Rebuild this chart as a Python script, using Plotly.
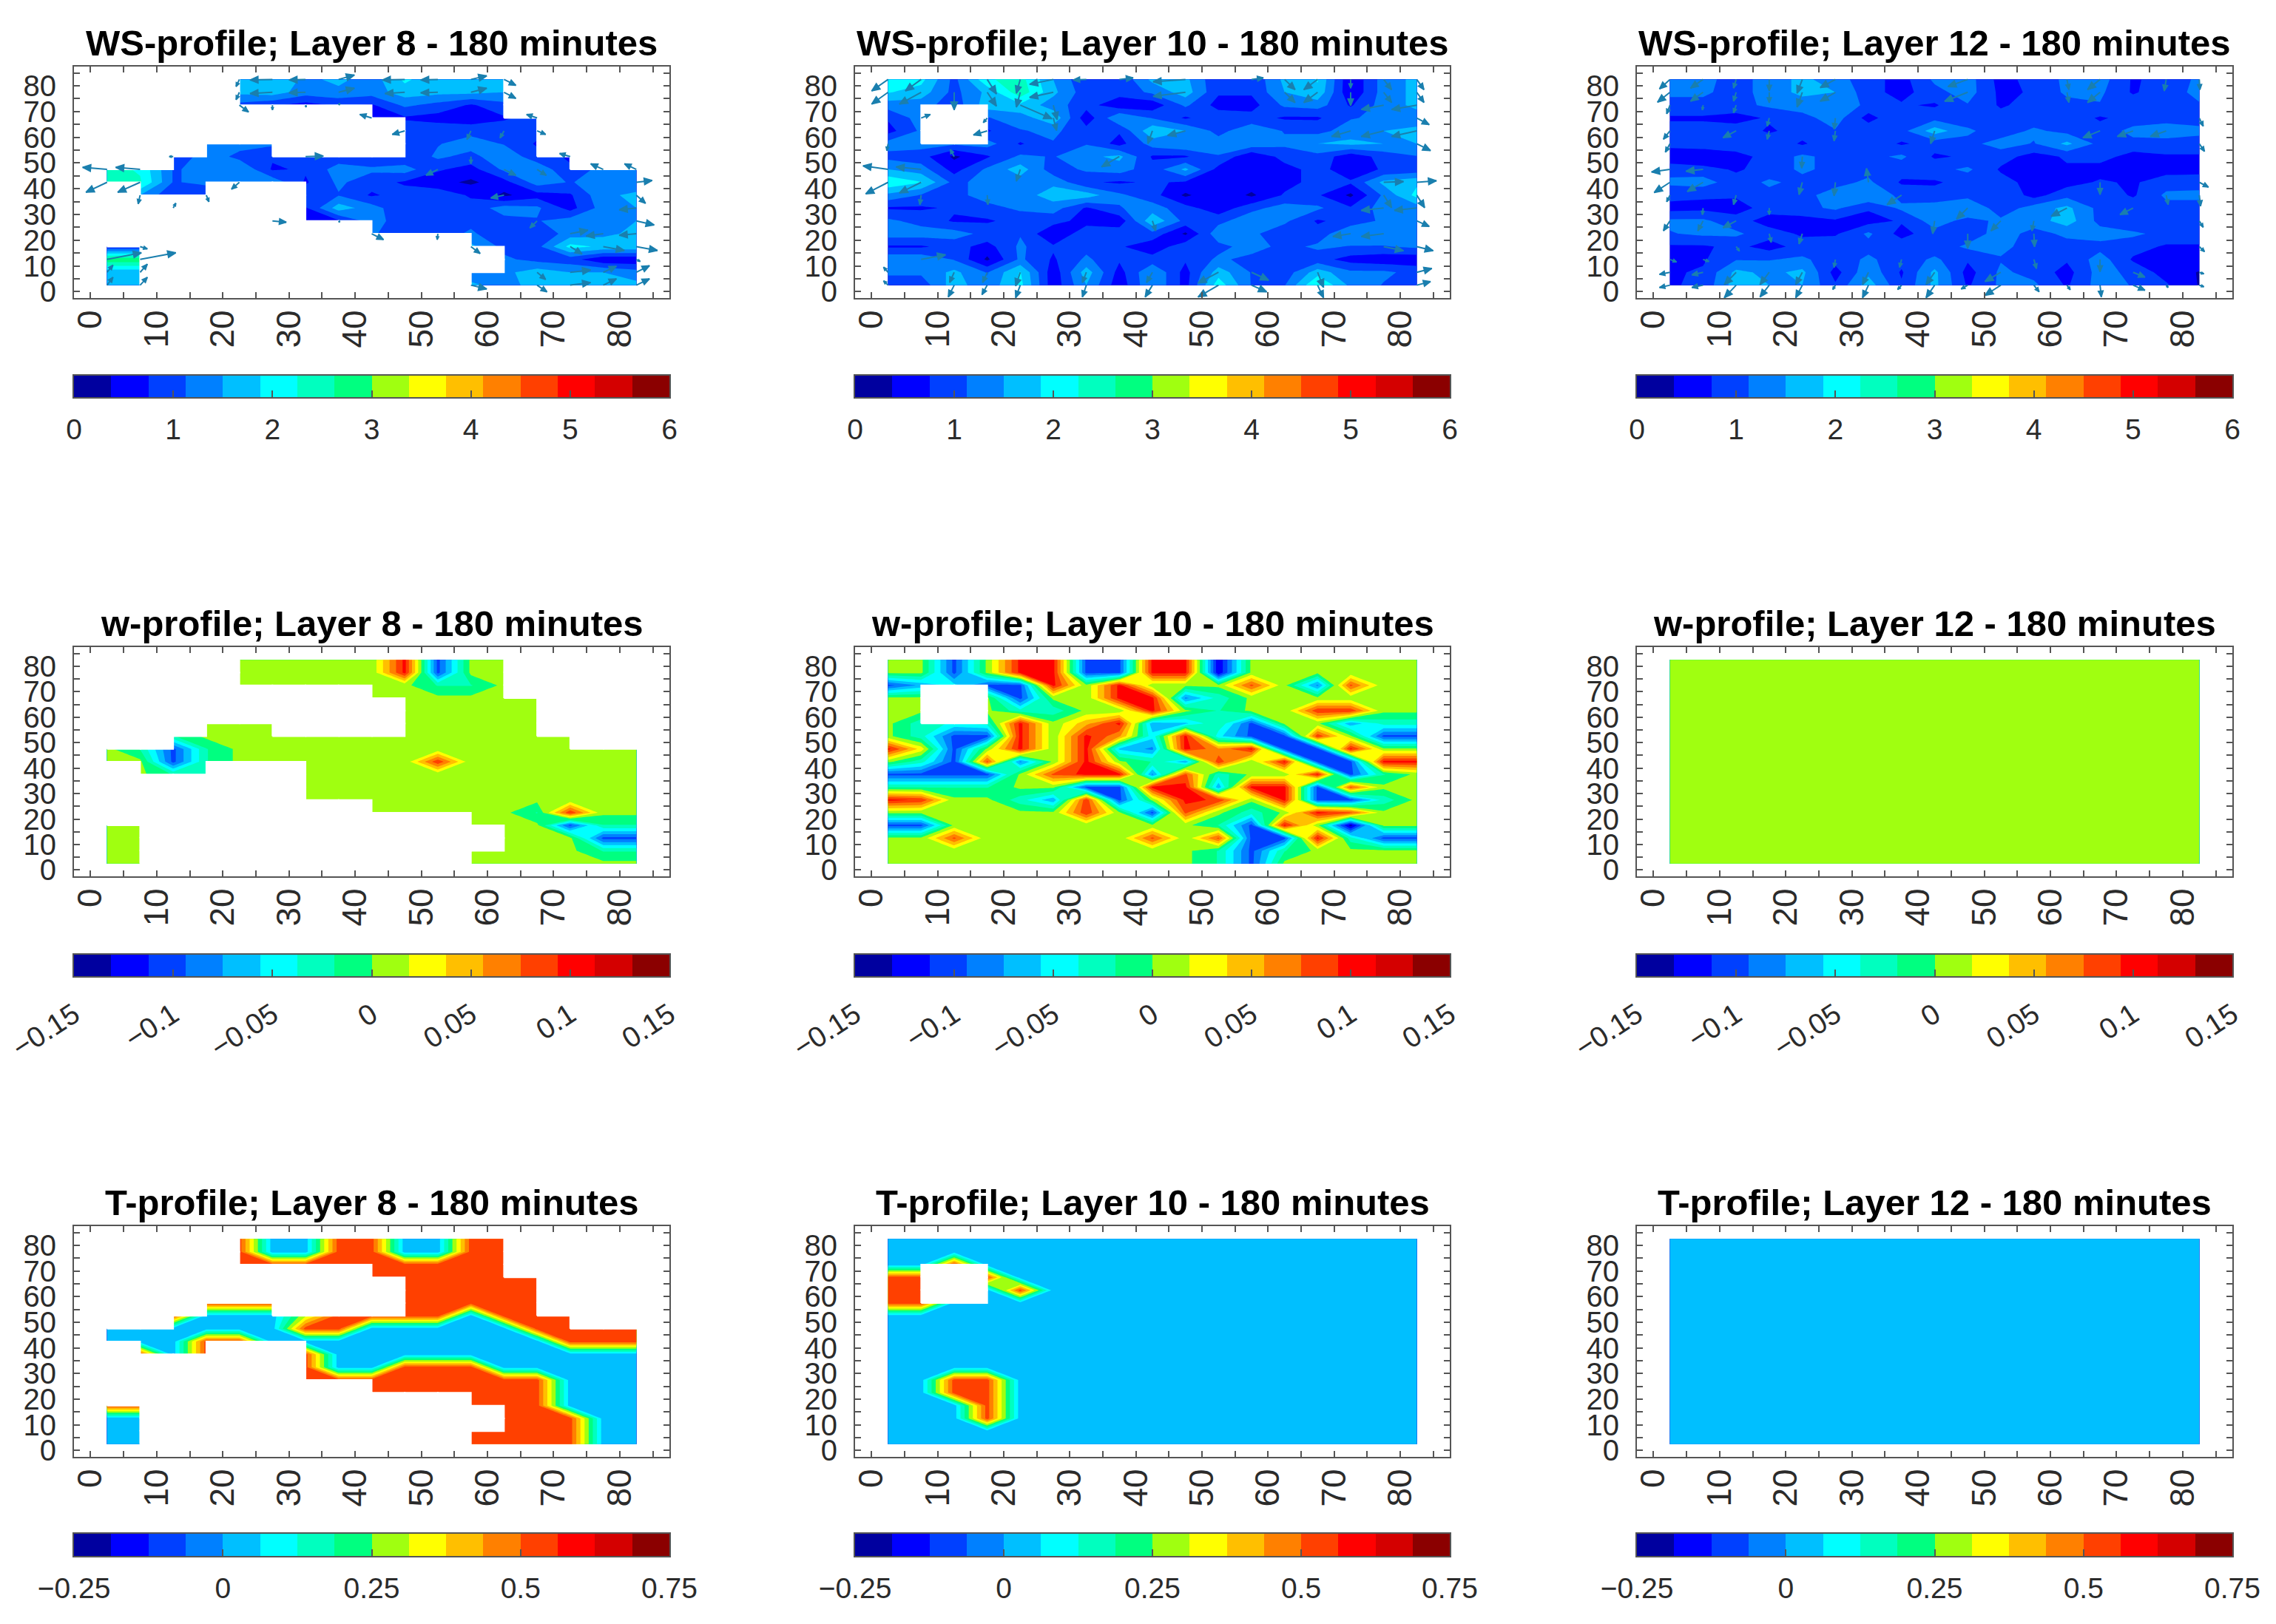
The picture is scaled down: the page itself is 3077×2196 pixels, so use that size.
import numpy as np
import plotly.graph_objects as go

N = float("nan")
Z = 0.005   # "zero" vertical wind (lime band)
B = 0.03    # temperature anomaly, blue band
R = 0.53    # temperature anomaly, orange-red band

grid = [2.5, 7.5, 12.5, 17.5, 22.5, 27.5, 32.5, 37.5, 42.5, 47.5, 52.5, 57.5, 62.5, 67.5, 72.5, 77.5, 82.5]

# all matrices: first row is y = 82.5, last row y = 2.5
ws8 = [
[N,N,N,N,1.6,1.85,1.4,1.6,1.3,1.95,1.6,1.6,1.6,N,N,N,N],
[N,N,N,N,1.6,1.7,1.3,1.4,1.3,1.7,1.6,1.6,1.5,N,N,N,N],
[N,N,N,N,1.0,0.8,0.6,0.8,0.7,1.2,1.0,0.7,1.0,N,N,N,N],
[N,N,N,N,N,N,N,N,0.4,0.7,0.6,0.5,0.7,0.9,N,N,N],
[N,N,N,N,N,N,N,N,N,1.0,1.0,1.0,0.95,0.9,N,N,N],
[N,N,N,1.5,1.3,1.2,N,N,N,1.0,1.1,1.3,1.1,0.7,N,N,N],
[N,N,0.7,1.4,1.0,0.8,0.8,0.9,0.8,0.8,1.2,1.0,1.4,0.9,0.7,N,N],
[2.4,2.2,1.1,1.2,1.5,0.7,0.8,1.3,1.2,1.3,0.8,0.6,1.2,1.4,0.8,1.3,1.3],
[2.4,2.3,1.1,1.2,1.4,1.4,0.7,1.2,0.9,0.7,0.5,0.3,0.6,1.3,1.1,1.3,1.2],
[N,1.5,0.8,0.9,N,N,1.0,1.1,0.7,0.9,1.0,0.7,0.3,0.6,0.7,1.4,1.6],
[N,N,N,N,N,N,0.7,1.7,1.3,0.8,0.8,0.9,1.3,1.2,0.6,1.3,1.5],
[N,N,N,N,N,N,0.4,0.7,1.3,0.9,0.9,1.0,1.0,1.1,1.3,1.4,1.5],
[N,N,N,N,N,N,N,N,1.2,0.8,0.9,1.2,0.8,0.8,1.3,1.4,1.6],
[0.7,0.7,N,N,N,N,N,N,N,N,N,1.6,1.0,1.0,2.0,1.8,1.8],
[2.9,2.9,N,N,N,N,N,N,N,N,N,N,1.2,1.0,0.9,0.45,0.45],
[1.6,1.6,N,N,N,N,N,N,N,N,N,1.2,1.4,1.7,1.5,1.5,1.3],
[1.7,1.7,N,N,N,N,N,N,N,N,N,1.6,1.3,1.7,1.7,1.6,1.6],
]

ws10 = [
[2.0,2.0,1.0,2.2,2.4,1.5,0.8,0.8,1.6,1.6,0.8,0.8,1.6,1.9,0.4,1.3,1.6],
[1.9,1.7,1.0,1.6,2.5,1.6,0.9,0.9,1.2,1.7,0.8,0.8,1.5,1.8,0.4,1.3,1.6],
[1.3,1.3,0.9,1.7,1.8,1.3,0.9,0.5,0.5,1.2,0.6,0.6,1.2,1.3,0.7,1.3,1.6],
[0.8,1.3,N,1.1,1.3,1.8,0.5,1.5,1.1,0.7,1.0,0.9,0.7,0.7,1.1,1.2,1.3],
[0.6,1.2,N,0.7,1.1,1.2,0.9,0.8,1.8,1.5,1.0,1.4,1.1,1.0,1.3,1.5,1.6],
[1.3,1.3,1.2,1.3,0.7,1.1,1.1,0.6,1.3,1.5,1.3,1.4,1.2,1.5,1.6,1.5,1.5],
[1.0,0.9,0.3,0.7,1.2,1.1,1.4,1.6,0.7,0.7,1.1,0.4,0.9,1.0,0.5,0.9,1.1],
[1.5,1.3,0.6,1.2,1.7,0.9,1.2,1.3,0.9,1.6,0.6,0.4,0.6,0.9,0.5,0.8,0.9],
[2.2,1.9,1.0,1.3,1.3,1.4,0.8,0.7,0.8,0.7,0.7,0.6,0.6,0.9,0.8,1.6,1.8],
[1.4,1.1,1.0,1.3,1.3,1.7,1.7,1.2,0.9,0.3,0.7,0.3,0.8,0.8,0.3,1.2,2.0],
[0.7,0.7,0.8,1.0,1.2,1.3,0.7,1.1,1.3,0.9,0.5,1.0,1.3,1.2,0.8,1.3,1.3],
[1.2,1.0,0.7,0.7,0.9,0.9,0.6,0.5,1.8,1.0,1.0,1.4,1.2,0.7,0.9,1.2,1.2],
[1.3,1.3,1.3,1.0,1.1,0.4,1.0,1.0,1.0,0.3,1.4,1.2,0.9,0.9,1.5,1.4,1.3],
[0.7,0.7,0.9,0.6,1.2,0.8,1.0,0.8,0.5,1.0,1.0,1.3,1.0,1.2,1.1,1.1,1.2],
[1.4,1.4,1.1,0.3,1.2,0.7,1.2,0.8,0.9,0.8,1.2,1.0,0.9,0.9,0.6,0.5,0.5],
[1.2,1.2,1.6,1.1,1.9,0.5,1.7,0.6,1.5,0.6,1.7,1.1,0.9,1.7,1.2,1.2,1.0],
[0.9,0.9,1.7,1.2,2.0,0.5,1.5,0.5,1.5,0.6,2.1,1.1,1.1,2.3,1.4,1.1,0.9],
]

ws12 = [
[1.2,1.25,0.95,1.3,1.6,1.3,0.9,0.6,1.2,1.3,0.6,0.9,1.2,1.3,0.7,0.9,1.2],
[1.2,1.2,0.95,1.3,1.6,1.5,0.9,0.6,1.0,1.3,0.65,0.8,1.2,1.2,0.7,1.0,1.2],
[1.0,1.0,1.0,1.2,1.3,1.5,1.0,0.8,0.7,1.1,0.7,0.9,1.0,1.1,1.0,1.0,1.1],
[0.7,0.7,0.6,0.8,1.0,1.3,0.6,1.1,1.0,0.9,0.9,0.9,1.0,0.7,0.9,1.0,1.0],
[0.9,0.9,0.95,0.7,0.9,1.1,1.0,1.0,1.7,1.2,0.9,1.2,1.0,0.9,1.25,1.3,1.2],
[0.9,1.0,1.0,1.0,0.7,1.0,1.0,0.7,0.9,1.0,1.3,1.1,1.6,1.0,1.0,1.0,1.0],
[0.45,0.4,0.6,0.9,1.2,1.0,1.0,1.2,0.7,0.8,0.9,0.6,0.8,0.9,0.6,0.7,0.7],
[1.0,0.9,0.7,0.9,1.2,1.0,1.0,0.9,1.0,1.2,0.7,0.7,0.7,0.6,0.7,0.6,0.6],
[1.2,1.3,0.9,1.2,1.0,1.0,1.2,0.7,0.7,0.9,0.9,0.6,0.6,0.8,0.7,0.95,1.0],
[0.9,0.8,0.8,1.0,1.0,1.3,1.5,1.0,0.9,1.0,1.1,0.6,1.0,1.0,0.7,1.2,1.2],
[0.6,0.65,0.6,0.9,1.0,1.2,0.8,1.2,1.3,1.5,0.9,1.3,1.6,1.0,1.0,1.0,1.0],
[1.2,1.2,0.9,0.6,0.6,0.7,0.6,0.8,1.3,1.0,1.2,1.3,1.7,1.0,0.8,1.0,1.0],
[1.1,1.2,1.2,0.9,0.7,0.7,1.2,0.6,1.0,0.9,1.3,1.0,1.2,1.3,1.2,1.0,1.0],
[0.7,0.7,0.85,0.6,0.9,1.0,1.0,1.0,0.9,1.2,1.2,1.0,1.0,1.0,0.9,0.7,0.7],
[0.7,0.7,1.1,1.1,1.2,0.9,1.2,0.9,1.2,0.8,1.1,1.0,0.8,1.3,0.7,0.6,0.6],
[0.7,0.8,1.6,1.4,1.6,0.6,1.4,0.7,1.6,0.6,1.2,1.0,0.6,1.3,1.0,0.6,0.35],
[0.7,0.85,1.7,1.5,1.5,0.8,1.7,0.8,1.6,0.7,1.2,1.2,0.7,1.3,1.1,0.8,0.35],
]

w8 = [
[N,N,N,N,Z,Z,Z,Z,Z,0.1,-0.1,Z,Z,N,N,N,N],
[N,N,N,N,Z,Z,Z,Z,Z,0.1,-0.1,Z,Z,N,N,N,N],
[N,N,N,N,Z,Z,Z,Z,Z,Z,-0.02,-0.02,Z,N,N,N,N],
[N,N,N,N,N,N,N,N,Z,Z,Z,Z,Z,Z,N,N,N],
[N,N,N,N,N,N,N,N,N,Z,Z,Z,Z,Z,N,N,N],
[N,N,N,Z,Z,Z,N,N,N,Z,Z,Z,Z,Z,N,N,N],
[N,N,-0.02,Z,Z,Z,Z,Z,Z,Z,Z,Z,Z,Z,Z,N,N],
[Z,-0.02,-0.1,-0.02,Z,Z,Z,Z,Z,Z,Z,Z,Z,Z,Z,Z,Z],
[Z,Z,-0.1,-0.02,Z,Z,Z,Z,Z,Z,0.09,Z,Z,Z,Z,Z,Z],
[N,Z,-0.02,-0.02,N,N,Z,Z,Z,Z,Z,Z,Z,Z,Z,Z,Z],
[N,N,N,N,N,N,Z,Z,Z,Z,Z,Z,Z,Z,Z,Z,Z],
[N,N,N,N,N,N,Z,Z,Z,Z,Z,Z,Z,Z,Z,Z,Z],
[N,N,N,N,N,N,N,N,Z,Z,Z,Z,Z,-0.02,0.09,Z,Z],
[Z,Z,N,N,N,N,N,N,N,N,N,Z,Z,Z,-0.1,-0.02,-0.02],
[Z,Z,N,N,N,N,N,N,N,N,N,N,Z,Z,Z,-0.1,-0.1],
[Z,Z,N,N,N,N,N,N,N,N,N,Z,Z,Z,Z,-0.02,-0.02],
[Z,Z,N,N,N,N,N,N,N,N,N,Z,Z,Z,Z,Z,Z],
]

w10 = [
[Z,Z,-0.1,Z,0.1,0.1,-0.1,-0.1,0.1,0.1,-0.13,Z,Z,Z,Z,Z,Z],
[Z,Z,-0.1,Z,0.1,0.1,-0.1,-0.1,0.1,0.1,-0.13,Z,Z,Z,Z,Z,Z],
[-0.1,-0.07,-0.05,-0.1,-0.1,0.1,Z,0.1,Z,Z,Z,0.08,Z,-0.08,0.08,Z,Z],
[Z,Z,N,Z,-0.1,Z,Z,0.1,0.1,-0.08,-0.03,Z,Z,Z,Z,Z,Z],
[Z,Z,N,Z,-0.03,-0.03,Z,Z,0.1,Z,-0.02,Z,Z,0.09,0.09,Z,Z],
[Z,-0.03,-0.04,-0.03,0.1,Z,0.05,0.1,-0.07,-0.06,-0.02,-0.1,Z,Z,-0.07,-0.03,-0.03],
[Z,-0.03,-0.1,-0.1,0.1,Z,0.1,0.06,-0.05,0.1,-0.05,-0.1,-0.1,0.09,Z,-0.1,-0.1],
[0.1,0.03,-0.1,Z,0.1,Z,0.1,-0.06,-0.08,0.1,0.06,0.1,-0.1,-0.1,0.1,Z,Z],
[Z,-0.03,-0.1,0.08,-0.08,Z,0.1,Z,-0.02,-0.07,0.09,Z,0.1,-0.1,-0.1,0.1,0.1],
[-0.1,-0.1,-0.1,-0.1,Z,0.08,0.1,0.1,-0.08,0.08,-0.03,Z,Z,0.1,-0.1,-0.02,Z],
[-0.02,-0.02,-0.02,-0.02,Z,Z,-0.1,-0.1,0.1,0.1,-0.07,0.1,0.1,-0.1,0.08,Z,Z],
[0.1,0.09,Z,Z,-0.03,-0.07,0.09,-0.1,Z,0.1,0.09,Z,0.1,-0.1,-0.1,-0.03,Z],
[Z,Z,Z,Z,Z,Z,0.09,Z,-0.1,0.08,Z,-0.03,Z,0.1,0.08,Z,Z],
[-0.1,-0.1,Z,Z,Z,Z,Z,Z,Z,Z,-0.02,-0.1,0.1,Z,-0.14,Z,Z],
[Z,Z,0.08,Z,Z,Z,Z,Z,0.08,Z,0.08,-0.1,-0.1,0.1,-0.03,-0.1,-0.1],
[Z,Z,Z,Z,Z,Z,Z,Z,Z,Z,-0.02,-0.1,-0.02,Z,Z,Z,Z],
[Z,Z,Z,Z,Z,Z,Z,Z,Z,Z,-0.02,-0.1,Z,Z,Z,Z,Z],
]

w12 = [[Z] * 17 for _ in grid]

t8 = [
[N,N,N,N,R,B,B,R,R,B,B,R,R,N,N,N,N],
[N,N,N,N,R,B,B,R,R,B,B,R,R,N,N,N,N],
[N,N,N,N,R,R,R,R,R,R,R,R,R,N,N,N,N],
[N,N,N,N,N,N,N,N,R,R,R,R,R,R,N,N,N],
[N,N,N,N,N,N,N,N,N,R,R,R,R,R,N,N,N],
[N,N,N,R,R,R,N,N,N,R,R,R,R,R,N,N,N],
[N,N,R,B,B,B,0.3,R,R,R,R,B,R,R,R,N,N],
[B,B,B,B,B,B,R,R,B,B,B,B,B,R,R,R,R],
[B,B,B,R,R,B,B,B,B,B,B,B,B,B,R,R,R],
[N,R,B,R,N,N,R,B,B,B,B,B,B,B,B,B,B],
[N,N,N,N,N,N,R,B,B,R,R,R,B,B,B,B,B],
[N,N,N,N,N,N,R,R,R,R,R,R,R,R,B,B,B],
[N,N,N,N,N,N,N,N,R,R,R,R,R,R,B,B,B],
[R,R,N,N,N,N,N,N,N,N,N,R,R,R,B,B,B],
[B,B,N,N,N,N,N,N,N,N,N,N,R,R,R,B,B],
[B,B,N,N,N,N,N,N,N,N,N,R,R,R,R,B,B],
[B,B,N,N,N,N,N,N,N,N,N,R,R,R,R,B,B],
]

t10 = [
[B,B,B,B,B,B,B,B,B,B,B,B,B,B,B,B,B],
[B,B,B,B,B,B,B,B,B,B,B,B,B,B,B,B,B],
[B,B,R,B,B,B,B,B,B,B,B,B,B,B,B,B,B],
[R,R,N,R,B,B,B,B,B,B,B,B,B,B,B,B,B],
[R,R,N,B,R,B,B,B,B,B,B,B,B,B,B,B,B],
[R,R,B,B,B,B,B,B,B,B,B,B,B,B,B,B,B],
[B,B,B,B,B,B,B,B,B,B,B,B,B,B,B,B,B],
[B,B,B,B,B,B,B,B,B,B,B,B,B,B,B,B,B],
[B,B,B,B,B,B,B,B,B,B,B,B,B,B,B,B,B],
[B,B,B,B,B,B,B,B,B,B,B,B,B,B,B,B,B],
[B,B,B,B,B,B,B,B,B,B,B,B,B,B,B,B,B],
[B,B,R,R,B,B,B,B,B,B,B,B,B,B,B,B,B],
[B,B,R,R,B,B,B,B,B,B,B,B,B,B,B,B,B],
[B,B,B,R,B,B,B,B,B,B,B,B,B,B,B,B,B],
[B,B,B,R,B,B,B,B,B,B,B,B,B,B,B,B,B],
[B,B,B,B,B,B,B,B,B,B,B,B,B,B,B,B,B],
[B,B,B,B,B,B,B,B,B,B,B,B,B,B,B,B,B],
]

t12 = [[B] * 17 for _ in grid]

# wind arrows: tail x, tail y, u, v (data units)
ws8_arrows = [
(22.5,82.5,-.5,-2.8),(27.5,82.5,-3.4,-.2),(32.5,82.5,-2.5,-.2),(37.5,82.5,2.4,1.7),(47.5,82.5,-3.4,-.2),(52.5,82.5,-2.6,-.2),(57.5,82.5,2.4,1.4),(62.5,82.5,1.8,-2.3),
(22.5,77.5,-.5,-2.9),(27.5,77.5,-3.4,-.5),(32.5,77.5,-2.5,-.2),(37.5,77.5,2.4,1.6),(47.5,77.5,-3,-.5),(52.5,77.5,-2.6,-.2),(57.5,77.5,2.4,1.6),(62.5,77.5,1.8,-2.4),
(22.5,72.5,1.4,-2.7),(27.5,72.5,0,-1.9),(32.5,72.5,.1,-.8),(37.5,72.5,.2,.7),(42.5,67.5,-1.8,1.4),(67.5,67.5,-1.6,1.4),(47.5,62.5,-1.9,-1.4),(67.5,62.5,1.3,-1.4),
(12.5,52.5,-.6,0),(32.5,52.5,2.7,.2),(72.5,52.5,-1.6,1.2),(7.5,47.5,-3.7,.8),(2.5,47.5,-3.7,.8),(77.5,47.5,-1.9,2.2),(82.5,47.5,-1.8,2.2),
(2.5,42.5,-3.2,-3.9),(7.5,42.5,-3.4,-3.9),(22.5,42.5,-1.2,-2.7),(82.5,42.5,2.4,.7),(7.5,37.5,-.3,-3.4),(12.5,32.5,.4,1.9),(17.5,37.5,.4,-2.6),(82.5,37.5,1.4,-3.2),
(82.5,32.5,-2.6,-.7),(27.5,27.5,2.1,-.5),(37.5,27.5,.2,-.5),(82.5,27.5,2.7,-1.6),(42.5,22.5,1.8,-2.3),(52.5,22.5,-.1,-2.3),(82.5,17.5,3.2,-1.5),(57.5,17.5,1.4,-2.7),(7.5,17.5,1.1,-.9),
(2.5,12.5,5.2,2.6),(7.5,12.5,5.4,2.6),(82.5,12.5,.6,-.8),(2.5,7.5,.9,2.8),(7.5,7.5,1.1,3.2),(82.5,7.5,2,2.6),(2.5,2.5,.9,3.1),(7.5,2.5,1.1,3.1),(57.5,2.5,2.4,-1.5),(67.5,2.5,1.5,-2.6),(82.5,2.5,2,2.5),
(72.5,7.5,3.1,.9),(67.5,7.5,1.3,-2.8),(77.5,2.5,2,2.5),(72.5,2.5,3.1,1),(77.5,7.5,2,2.4),(72.5,17.5,1.8,-2.9),(77.5,17.5,3.2,-1.5),(72.5,22.5,2.7,1.4),(77.5,22.5,-2.6,-.9),(82.5,22.5,-2.6,-.6),
(62.5,37.5,-2,-1.1),(67.5,27.5,-1.1,-2.8),(52.5,47.5,-1.8,-2.3),(57.5,52.5,0,-2.8),(57.5,62.5,-.6,-3.4),(62.5,62.5,-.6,-2.8),(62.5,47.5,1.8,-2.3),(67.5,47.5,1.4,-2.3),
]

ws10_arrows = [
(2.5,82.5,-2.5,-4.5),(7.5,82.5,-2.4,-4.5),(17.5,82.5,1.4,-5.7),(22.5,82.5,-.6,-5.4),(27.5,82.5,-3.6,-1.9),(32.5,82.5,-2,-.2),(37.5,82.5,2.1,.6),(47.5,82.5,-4.9,-.9),(57.5,82.5,1.8,.6),(62.5,82.5,1.6,-4),(67.5,82.5,-2.1,-4),(72.5,82.5,0,-3.4),(77.5,82.5,1.2,-4),(82.5,82.5,1.1,-4),
(2.5,77.5,-2.5,-4.6),(7.5,77.5,-3.3,-4.6),(12.5,77.5,0,-6.9),(17.5,77.5,1.4,-5.4),(22.5,77.5,-.6,-5.8),(27.5,77.5,-3.6,-2),(47.5,77.5,-4.9,-1.6),(62.5,77.5,1.6,-4),(67.5,77.5,-2.1,-4),(72.5,77.5,0,-5.2),(77.5,77.5,1.2,-4),(82.5,77.5,1.1,-4),
(22.5,72.5,4.8,-5.3),(27.5,72.5,.6,-5.7),(77.5,72.5,-3.4,-1.7),(82.5,72.5,-3.8,-1.7),
(7.5,67.5,1.4,1.4),(17.5,67.5,-.6,-1.8),(27.5,67.5,.5,-4.9),(82.5,67.5,1.9,-2.6),
(17.5,62.5,-2.1,-1.6),(82.5,62.5,-3.8,-2.2),(77.5,62.5,-3.4,-2.2),(72.5,62.5,-2.9,-2.2),(42.5,62.5,-.7,-5),(47.5,62.5,-2.7,-1.8),
(82.5,57.5,2.1,-2.7),(2.5,57.5,-.2,-2.7),(12.5,52.5,-.6,2.8),(37.5,52.5,-2.7,-4),
(2.5,47.5,-3.8,1.4),(7.5,47.5,-3.8,1),(22.5,47.5,-.6,-4.6),(2.5,42.5,-3.4,-4.5),(7.5,42.5,-3.3,-4.2),(82.5,42.5,3,.6),(77.5,42.5,3,.3),
(82.5,37.5,1.2,-4.9),(77.5,37.5,1.2,-4.9),(17.5,37.5,.1,-3.7),(7.5,37.5,-.2,-3.7),(82.5,32.5,-3.4,-.9),(77.5,32.5,-3.4,-.9),(82.5,27.5,1.9,-2.2),(42.5,27.5,.5,-3.9),
(77.5,22.5,-3.4,-1.1),(72.5,22.5,-2.7,-1.1),(82.5,17.5,2.5,-1.6),(77.5,17.5,3,-1.6),(7.5,12.5,3.7,1.8),
(2.5,7.5,-.7,2),(82.5,7.5,2.3,1.5),(12.5,7.5,-.7,-4),(17.5,7.5,-.7,-4),(22.5,7.5,-.7,-5.3),(32.5,7.5,-.6,-4),(42.5,7.5,-.9,-4),(52.5,7.5,-3.1,-4.2),(67.5,7.5,.9,-5.9),(57.5,7.5,2.6,-3.1),
(2.5,2.5,-.7,1.7),(12.5,2.5,-.9,-4.6),(17.5,2.5,-.8,-3.7),(22.5,2.5,-.7,-4.9),(32.5,2.5,-.6,-4.6),(42.5,2.5,-1.1,-4.6),(52.5,2.5,-3.1,-4.6),(57.5,2.5,2.3,-2.6),(67.5,2.5,.9,-4.9),(82.5,2.5,2.1,1.4),
]

ws12_arrows = [
(2.5,2.5,-1.6,-.9),(7.5,2.5,-1.7,-.9),(12.5,2.5,-1.8,-4.9),(17.5,2.5,-1.4,-4.6),(22.5,2.5,-1,-4.9),(27.5,2.5,-.4,-1.7),(32.5,2.5,-.9,-4.9),(37.5,2.5,-.6,-1.7),(42.5,2.5,-1.3,-4.9),(47.5,2.5,-1,-1.5),(52.5,2.5,-2.4,-4),(57.5,2.5,.8,-2.6),(62.5,2.5,.5,-1.8),(67.5,2.5,.2,-4.6),(72.5,2.5,1.8,-2),(77.5,2.5,.3,-.9),(82.5,2.5,.7,-.6),
(2.5,7.5,-1.6,-.8),(7.5,7.5,-1.7,-1),(12.5,7.5,-1.8,-4.8),(17.5,7.5,-1.4,-4.8),(22.5,7.5,-1,-4.8),(32.5,7.5,-.9,-4.8),(42.5,7.5,-1.3,-4.8),(52.5,7.5,-2.4,-3.6),(72.5,7.5,1.8,-1.9),(82.5,7.5,.7,-.6),
(2.5,82.5,-1.6,-3.7),(7.5,82.5,-1.9,-3.4),(12.5,82.5,-.4,-3.4),(17.5,82.5,0,-4.5),(22.5,82.5,-.8,-5.4),(27.5,82.5,-2.3,-3.2),(47.5,82.5,-3,-2.8),(62.5,82.5,.3,-4),(67.5,82.5,-1.9,-4),(77.5,82.5,-.3,-4.5),(82.5,82.5,.1,-4),
(2.5,77.5,-1.9,-3.9),(7.5,77.5,-1.9,-3.5),(12.5,77.5,-.4,-3.5),(17.5,77.5,0,-4.1),(22.5,77.5,-.8,-5.8),(27.5,77.5,-2.3,-3.5),(47.5,77.5,-3.5,-3.5),(67.5,77.5,-1.9,-4),(62.5,77.5,.3,-4),
(2.5,72.5,-.5,-3.4),(7.5,72.5,-.1,-1.9),(12.5,72.5,-.4,-3),(82.5,67.5,.6,-3.2),(17.5,67.5,-.3,-3.2),(27.5,67.5,-.2,-4.3),
(2.5,62.5,-1,-3.3),(12.5,62.5,-2,-2.7),(17.5,62.5,-.3,-3.3),(27.5,62.5,-.2,-3.9),(42.5,62.5,-.6,-5),(72.5,62.5,-2.4,-2.2),(77.5,62.5,-2.4,-2.2),(67.5,62.5,-2.6,-2.7),
(2.5,57.5,-.7,-3.3),(82.5,57.5,.8,-3),(2.5,47.5,-2.8,-1),(7.5,47.5,-2.6,-.7),(2.5,42.5,-2.4,-4),(7.5,42.5,-2.4,-3.6),(82.5,42.5,1.4,-1.9),(32.5,42.5,-.3,5.4),
(2.5,37.5,-.5,-2.6),(12.5,37.5,-.4,-3.7),(82.5,37.5,.2,-4.3),(77.5,37.5,.3,-3.7),(2.5,27.5,-1,-3.9),(7.5,27.5,-.8,-3.9),(12.5,27.5,-2,-2.7),(82.5,27.5,.6,-2.5),(82.5,17.5,.8,-2),(2.5,12.5,1,-1),(7.5,12.5,.9,-.8),
(42.5,27.5,-.3,-5),(52.5,27.5,-1.5,-3.9),(62.5,32.5,-2.4,-3.2),(47.5,32.5,-1.7,-4.3),(72.5,32.5,-2,-2.6),(57.5,27.5,-.3,-3.9),(27.5,42.5,-.2,-5.3),(37.5,37.5,-2.2,-3.7),(22.5,42.5,-.5,-4.8),(22.5,52.5,-.1,-4.5),(67.5,42.5,0,-4.8),(57.5,22.5,.1,-5.1),(47.5,22.5,0,-5.7),(67.5,12.5,0,-4.8),(57.5,12.5,.4,-3.6),(37.5,12.5,-.3,-3.1),(27.5,12.5,-.2,-3.1),(12.5,17.5,.5,-1.8),(17.5,22.5,.3,-3.4),(22.5,22.5,-.5,-4),(7.5,32.5,-.1,-2.6),(17.5,32.5,0,-2.6),
]

band_colors = ["#00009f","#0000ff","#0040ff","#0080ff","#00bfff","#00ffff","#00ffbf","#00ff80",
               "#a0ff10","#ffff00","#ffbf00","#ff8000","#ff4000","#ff0000","#d40000","#8b0000"]

ws_lim = (0, 6); w_lim = (-0.15, 0.15); t_lim = (-0.25, 0.75)
ws_ticks = [0, 1, 2, 3, 4, 5, 6]
ws_text = ["0", "1", "2", "3", "4", "5", "6"]
w_ticks = [-0.15, -0.1, -0.05, 0, 0.05, 0.1, 0.15]
w_text = ["\u22120.15", "\u22120.1", "\u22120.05", "0", "0.05", "0.1", "0.15"]
t_ticks = [-0.25, 0, 0.25, 0.5, 0.75]
t_text = ["\u22120.25", "0", "0.25", "0.5", "0.75"]

rows = [
    ("WS-profile", ws_lim, ws_ticks, ws_text, [ws8, ws10, ws12], [ws8_arrows, ws10_arrows, ws12_arrows]),
    ("w-profile", w_lim, w_ticks, w_text, [w8, w10, w12], [None, None, None]),
    ("T-profile", t_lim, t_ticks, t_text, [t8, t10, t12], [None, None, None]),
]
layers = [8, 10, 12]

W, H = 3077, 2196
col_px = [(100, 905), (1156, 1960), (2213, 3018)]
row_px = [(90, 403), (875, 1185), (1658, 1970)]
bar_px = [(508, 537), (1291, 1320), (2074, 2104)]
AX_MIN, AX_MAX = -2.5, 87.5
FONT = "Liberation Sans"
NARROW = "Liberation Sans Narrow, Liberation Sans"
LINE = "#555555"
TEXT = "#2b2b2b"
ARROW = "#1a7fae"

scale = []
for k, c in enumerate(band_colors):
    scale += [[k / 16, c], [(k + 1) / 16, c]]

fig = go.Figure()
layout = {}
ann = []
n = 0
for r, (name, lim, ticks, text, mats, arrows) in enumerate(rows):
    step = (lim[1] - lim[0]) / 16
    for c, layer in enumerate(layers):
        n += 1
        xa, ya = f"x{n}", f"y{n}"
        xb, yb = f"x{n+9}", f"y{n+9}"
        z = np.array(mats[c], dtype=float)[::-1]
        fig.add_trace(go.Contour(x=grid, y=grid, z=z, xaxis=xa, yaxis=ya, connectgaps=True,
                                 zmin=lim[0], zmax=lim[1], colorscale=scale, showscale=False,
                                 autocontour=False, hoverinfo="skip",
                                 contours=dict(start=lim[0], end=lim[1], size=step, coloring="fill", showlines=False),
                                 line=dict(width=0, smoothing=0)))
        # cells that touch a missing vertex stay blank
        bad = np.isnan(z)
        cell = bad[:-1, :-1] | bad[1:, :-1] | bad[:-1, 1:] | bad[1:, 1:]
        if cell.any():
            mx, my = [], []
            for j, i in zip(*np.nonzero(cell)):
                mx += [grid[i], grid[i + 1], grid[i + 1], grid[i], grid[i], None]
                my += [grid[j], grid[j], grid[j + 1], grid[j + 1], grid[j], None]
            fig.add_trace(go.Scatter(x=mx, y=my, mode="lines", fill="toself", fillcolor="white",
                                     line=dict(color="white", width=2), xaxis=xa, yaxis=ya,
                                     hoverinfo="skip", showlegend=False))
        x0, x1 = col_px[c]; y0, y1 = row_px[r]
        ux = (AX_MAX - AX_MIN) / (x1 - x0); uy = (AX_MAX - AX_MIN) / (y1 - y0)
        if arrows[c]:
            lx, ly, hx, hy = [], [], [], []
            for ax, ay, u, v in arrows[c]:
                lx += [ax, ax + u, None]; ly += [ay, ay + v, None]
                px, py = u / ux, v / uy
                L = max((px ** 2 + py ** 2) ** 0.5, 1e-6)
                hl = min(11, L * 0.5); hw = hl * 0.42
                ex, ey = px / L, py / L
                tx, ty = ax + u, ay + v
                bx, by = tx - ex * hl * ux, ty - ey * hl * uy
                hx += [tx, bx - ey * hw * ux, bx + ey * hw * ux, tx, None]
                hy += [ty, by + ex * hw * uy, by - ex * hw * uy, ty, None]
            fig.add_trace(go.Scatter(x=lx, y=ly, mode="lines", xaxis=xa, yaxis=ya, hoverinfo="skip",
                                     line=dict(color=ARROW, width=2), showlegend=False))
            fig.add_trace(go.Scatter(x=hx, y=hy, mode="lines", xaxis=xa, yaxis=ya, hoverinfo="skip",
                                     fill="toself", fillcolor=ARROW, line=dict(color=ARROW, width=1.5), showlegend=False))
        ax_common = dict(automargin=False, showline=True, linecolor=LINE, linewidth=2, mirror="allticks", ticks="inside",
                         ticklen=8, tickcolor=LINE, tickwidth=2, showgrid=False, zeroline=False,
                         range=[AX_MIN, AX_MAX], tickmode="array", tickvals=list(range(0, 90, 10)),
                         minor=dict(tickmode="array", tickvals=list(range(5, 90, 10)), ticks="inside", ticklen=8, tickcolor=LINE, tickwidth=2))
        layout[f"xaxis{n}"] = dict(ax_common, anchor=ya, domain=[x0 / W, x1 / W], tickangle=-90,
                                   ticklabelstandoff=-4, tickfont=dict(family=NARROW, size=46, color=TEXT))
        layout[f"yaxis{n}"] = dict(ax_common, anchor=xa, domain=[1 - y1 / H, 1 - y0 / H],
                                   ticklabelstandoff=14, tickfont=dict(family=FONT, size=40, color=TEXT))
        # colour bar
        edges = np.linspace(lim[0], lim[1], 17)
        mids = (edges[:-1] + edges[1:]) / 2
        fig.add_trace(go.Heatmap(x=edges, y=[0, 1], z=[mids], xaxis=xb, yaxis=yb, zmin=lim[0], zmax=lim[1],
                                 colorscale=scale, showscale=False, hoverinfo="skip"))
        b0, b1 = bar_px[r]
        layout[f"xaxis{n+9}"] = dict(automargin=False, anchor=yb, domain=[x0 / W, x1 / W], range=list(lim), tickmode="array",
                                     tickvals=ticks, ticktext=text, ticks="inside", ticklen=9, tickwidth=2,
                                     tickcolor=LINE, showline=True, linecolor=LINE, linewidth=2, mirror=True,
                                     showgrid=False, zeroline=False, tickangle=(-33 if r == 1 else 0),
                                     ticklabelstandoff=(12 if r == 1 else 8), tickfont=dict(family=FONT, size=39, color=TEXT))
        layout[f"yaxis{n+9}"] = dict(automargin=False, anchor=xb, domain=[1 - b1 / H, 1 - b0 / H], range=[0, 1], showticklabels=False,
                                     ticks="", showline=True, linecolor=LINE, linewidth=2, mirror=True,
                                     showgrid=False, zeroline=False)
        ann.append(dict(text=f"<b>{name}; Layer {layer} - 180 minutes</b>", xref="paper", yref="paper",
                        x=(x0 + x1) / 2 / W, y=1 - (y0 - 3) / H, xanchor="center", yanchor="bottom",
                        showarrow=False, font=dict(family=FONT, size=49, color="black")))

fig.update_layout(template="none", width=W, height=H, autosize=False, margin=dict(l=0, r=0, t=0, b=0, pad=0),
                  paper_bgcolor="white", plot_bgcolor="white", showlegend=False, annotations=ann, **layout)
fig.write_html("out.html", config={"displayModeBar": False},
               post_script="document.body.style.margin='0';document.body.style.overflow='hidden';")
